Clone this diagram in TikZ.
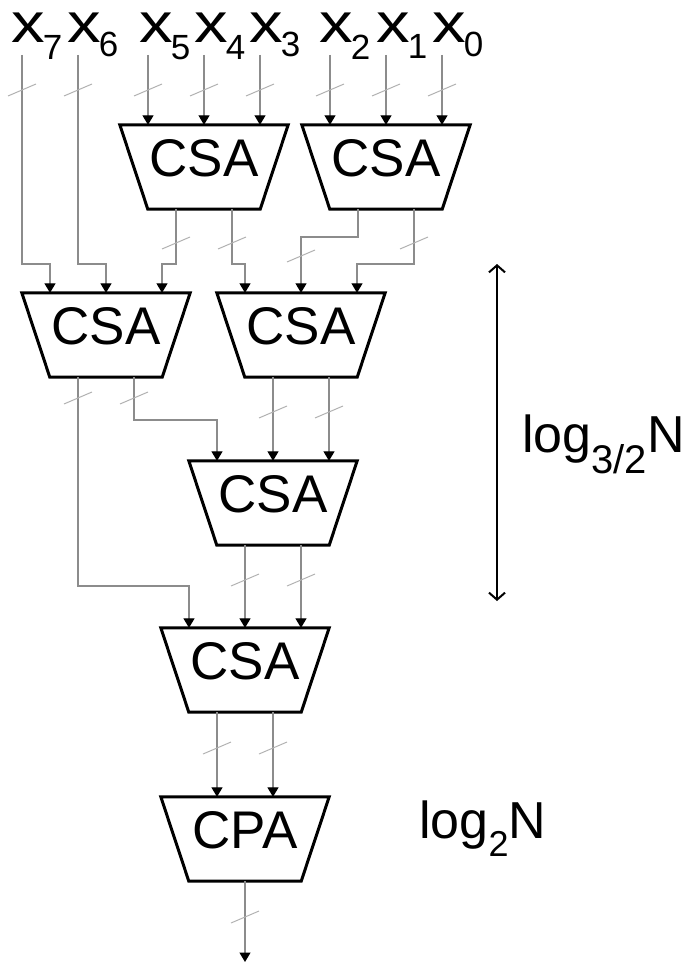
\documentclass[tikz,border=0pt]{standalone}
\usepackage{fontspec}
\setmainfont{Liberation Sans}
\usetikzlibrary{arrows.meta,calc}
\newcommand\lowsub[2]{\kern-2pt\raisebox{-#1pt}{\fontsize{35}{35}\selectfont #2}}
\newcommand\wx{\scalebox{1.2}[1]{x}}
\newcommand\busslash[1]{\draw[busmark] ($(#1)+(-14,6)$) -- ($(#1)+(14,-6)$);}
\begin{document}
\begin{tikzpicture}[x=1pt,y=-1pt,
  wire/.style={draw=black!45, line width=1.3pt, -{Triangle[width=11pt,length=9.5pt,color=black]}},
  busmark/.style={draw=black!30, line width=1pt},
  adder/.style={minimum width=168pt, minimum height=84pt, inner sep=0pt, font=\fontsize{53}{60}\selectfont},
  trap/.style={draw=black, line width=3pt, line join=miter},
  inlabel/.style={anchor=base west, inner sep=0pt, font=\fontsize{56}{60}\selectfont},
  loglabel/.style={anchor=base west, inner sep=0pt, font=\fontsize{52}{58}\selectfont},
  span/.style={draw=black, line width=2pt, {Straight Barb[width=16pt,length=7pt,line width=2pt]}-{Straight Barb[width=16pt,length=7pt,line width=2pt]}}
]
\useasboundingbox (0,0) rectangle (688,963);

% input labels
\node[inlabel] (x7) at (11,43)  {\wx\lowsub{17}{7}};
\node[inlabel] (x6) at (67,43)  {\wx\lowsub{14}{6}};
\node[inlabel] (x5) at (139,43) {\wx\lowsub{17}{5}};
\node[inlabel] (x4) at (194,43) {\wx\lowsub{17}{4}};
\node[inlabel] (x3) at (249,43) {\wx\lowsub{14}{3}};
\node[inlabel] (x2) at (319,43) {\wx\lowsub{17}{2}};
\node[inlabel] (x1) at (376,43) {\wx\lowsub{16}{1}};
\node[inlabel] (x0) at (432,43) {\wx\lowsub{14}{0}};

% wire start points under the labels
\coordinate (s7) at (22,55);
\coordinate (s6) at (78,55);
\coordinate (s5) at (148,55);
\coordinate (s4) at (204,55);
\coordinate (s3) at (260,55);
\coordinate (s2) at (330,55);
\coordinate (s1) at (386,55);
\coordinate (s0) at (442,55);

% adders
\node[adder] (c1)  at (204,167) {\raisebox{9pt}[\height][\depth]{CSA}};
\node[adder] (c2)  at (386,167) {\raisebox{9pt}[\height][\depth]{CSA}};
\node[adder] (c3)  at (106,335) {\raisebox{9pt}[\height][\depth]{CSA}};
\node[adder] (c4)  at (301,335) {\raisebox{9pt}[\height][\depth]{CSA}};
\node[adder] (c5)  at (273,503) {\raisebox{9pt}[\height][\depth]{CSA}};
\node[adder] (c6)  at (245,670) {\raisebox{9pt}[\height][\depth]{CSA}};
\node[adder] (cpa) at (245,839) {\raisebox{9pt}[\height][\depth]{CPA}};

\foreach \n in {c1,c2,c3,c4,c5,c6,cpa}{
  \draw[trap] (\n.north west) -- (\n.north east) -- ([xshift=-28pt]\n.south east) -- ([xshift=28pt]\n.south west) -- cycle;
  \path ($(\n.north)+(-56,0)$) coordinate (\n-i1)
        (\n.north) coordinate (\n-i2)
        ($(\n.north)+(56,0)$) coordinate (\n-i3)
        ($(\n.south)+(-28,0)$) coordinate (\n-o1)
        ($(\n.south)+(28,0)$) coordinate (\n-o2)
        (\n.south) coordinate (\n-o);
}

% jog levels and slash levels
\coordinate (ja) at (0,264);
\coordinate (jb) at (0,237);
\coordinate (jc) at (0,420);
\coordinate (jd) at (0,586);
\coordinate (k0) at (0,90);
\coordinate (k1) at (0,243);
\coordinate (k1b) at (0,256);
\coordinate (k2) at (0,398);
\coordinate (k3) at (0,412);
\coordinate (k4) at (0,580);
\coordinate (k5) at (0,748);
\coordinate (k6) at (0,917);
\coordinate (out) at (245,962);

% top inputs
\foreach \s in {s5,s4,s3}{\draw[wire] (\s) -- (\s |- c1.north);}
\foreach \s in {s2,s1,s0}{\draw[wire] (\s) -- (\s |- c2.north);}
\draw[wire] (s7) -- (s7 |- ja) -| (c3-i1);
\draw[wire] (s6) -- (s6 |- ja) -| (c3-i2);
\foreach \s in {s7,s6,s5,s4,s3,s2,s1,s0}{\busslash{\s |- k0}}

% first level outputs
\draw[wire] (c1-o1) -- (c1-o1 |- ja) -| (c3-i3);
\draw[wire] (c1-o2) -- (c1-o2 |- ja) -| (c4-i1);
\draw[wire] (c2-o1) -- (c2-o1 |- jb) -| (c4-i2);
\draw[wire] (c2-o2) -- (c2-o2 |- ja) -| (c4-i3);
\busslash{c1-o1 |- k1}
\busslash{c1-o2 |- k1}
\busslash{c2-o2 |- k1}
\busslash{c4-i2 |- k1b}

% second level outputs
\draw[wire] (c3-o1) -- (c3-o1 |- jd) -| (c6-i1);
\draw[wire] (c3-o2) -- (c3-o2 |- jc) -| (c5-i1);
\draw[wire] (c4-o1) -- (c4-o1 |- c5.north);
\draw[wire] (c4-o2) -- (c4-o2 |- c5.north);
\busslash{c3-o1 |- k2}
\busslash{c3-o2 |- k2}
\busslash{c4-o1 |- k3}
\busslash{c4-o2 |- k3}

% third level
\draw[wire] (c5-o1) -- (c5-o1 |- c6.north);
\draw[wire] (c5-o2) -- (c5-o2 |- c6.north);
\busslash{c5-o1 |- k4}
\busslash{c5-o2 |- k4}

% fourth level
\draw[wire] (c6-o1) -- (c6-o1 |- cpa.north);
\draw[wire] (c6-o2) -- (c6-o2 |- cpa.north);
\busslash{c6-o1 |- k5}
\busslash{c6-o2 |- k5}

% output
\draw[wire] (cpa-o) -- (out);
\busslash{cpa-o |- k6}

% depth annotations
\coordinate (ta) at (497,264);
\coordinate (tb) at (497,601);
\draw[span] (ta) -- (tb);
\node[loglabel] (l1) at (522,452) {log\raisebox{-21pt}{\fontsize{40}{40}\selectfont 3/2}N};
\node[loglabel] (l2) at (419,838) {log\raisebox{-18pt}{\fontsize{36}{36}\selectfont 2}N};
\end{tikzpicture}
\end{document}
